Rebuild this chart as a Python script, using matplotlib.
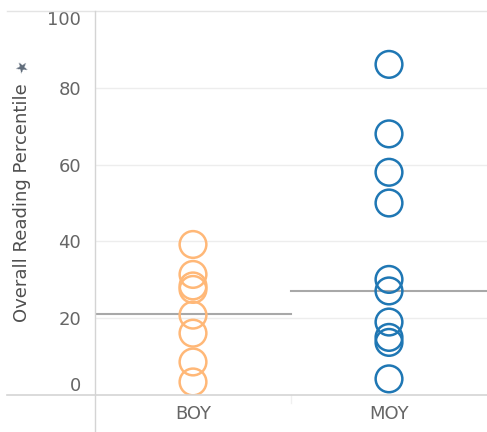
import matplotlib.pyplot as plt
from matplotlib.lines import Line2D

# values
categories = ['BOY', 'MOY']
boy_values = [39.2, 31.4, 28.4, 27.5, 20.8, 16.1, 8.6, 3.4]
moy_values = [86.1, 68.0, 58.0, 50.0, 30.1, 27.1, 19.0, 15.0, 13.7, 4.2]
ref_lines = [21.0, 27.2]
y_ticks = [0, 20, 40, 60, 80, 100]

colors = ['#FFB878', '#1F77B4']
text_grey = '#666666'
rule_grey = '#D4D4D4'

fig = plt.figure(figsize=(4.87, 4.32), dpi=100)
ax = fig.add_axes([95 / 487, 37 / 432, 392 / 487, 384 / 432])

for i, vals in enumerate([boy_values, moy_values]):
    ax.scatter([i] * len(vals), vals, s=370, facecolors='none',
               edgecolors=colors[i], linewidths=1.8, zorder=3)
    ax.plot([i - 0.5, i + 0.5], [ref_lines[i]] * 2, color='#A8A8A8', lw=1.5, zorder=2)

ax.set_xlim(-0.5, 1.5)
ax.set_ylim(0, 100)
ax.set_yticks(y_ticks)
ax.set_xticks(range(len(categories)))
ax.set_xticklabels(categories)

for y in y_ticks[1:-1]:
    ax.axhline(y, color='#EDEDED', lw=1, zorder=1)
ax.axvline(0.5, ymin=-0.02, ymax=0, color='#F0F0F0', lw=1, clip_on=False)

for s in ax.spines.values():
    s.set_visible(False)
ax.tick_params(axis='both', length=0, colors=text_grey, labelsize=13)
ax.tick_params(axis='x', pad=7)
ax.tick_params(axis='y', pad=10)
labels = ax.get_yticklabels()
labels[0].set_va('bottom')
labels[-1].set_va('top')

ax.set_ylabel('Overall Reading Percentile', fontsize=13, color='#4F4F4F', labelpad=12)

# frame lines that run past the axes like the reference pane
fig.add_artist(Line2D([7 / 487, 1], [421 / 432] * 2, color='#E4E4E4', lw=1))
fig.add_artist(Line2D([7 / 487, 1], [37 / 432] * 2, color=rule_grey, lw=1.2))
fig.add_artist(Line2D([95 / 487] * 2, [0, 421 / 432], color=rule_grey, lw=1))

# little pin next to the axis title
fig.text(22 / 487, 1 - 68 / 432, '\u2605', fontsize=11, color='#5F6B7A',
         ha='center', va='center', rotation=30)

fig.savefig('out.png', dpi=100)
